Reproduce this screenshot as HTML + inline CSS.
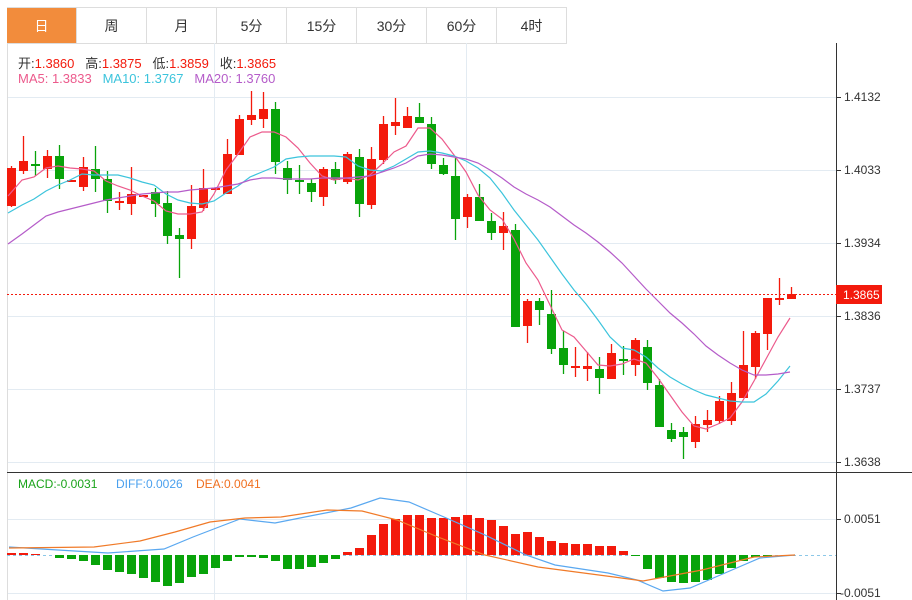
<!DOCTYPE html>
<html><head><meta charset="utf-8"><style>
body{margin:0;background:#fff;width:912px;height:600px;overflow:hidden;font-family:"Liberation Sans","Noto Sans CJK SC",sans-serif}
.tabs{position:absolute;left:7px;top:7px;height:36px;display:flex;border-top:1px solid #ddd}
.tab{width:69px;border-right:1px solid #ddd;text-align:center;line-height:36px;font-size:14px;color:#333;border-bottom:1px solid #ddd}
.tab.on{background:#f28c3c;color:#fff}
.info{position:absolute;left:18px;font-size:13px;white-space:pre}
</style></head><body>
<div class="tabs"><div class="tab on">日</div><div class="tab">周</div><div class="tab">月</div><div class="tab">5分</div><div class="tab">15分</div><div class="tab">30分</div><div class="tab">60分</div><div class="tab">4时</div></div>
<svg id="s" width="912" height="600" style="position:absolute;left:0;top:0" font-family="Liberation Sans, sans-serif">
<g stroke="#e3ebf2" stroke-width="1">
<line x1="7" y1="97.5" x2="836" y2="97.5"/><line x1="7" y1="170.5" x2="836" y2="170.5"/><line x1="7" y1="243.5" x2="836" y2="243.5"/><line x1="7" y1="316.5" x2="836" y2="316.5"/><line x1="7" y1="389.5" x2="836" y2="389.5"/><line x1="7" y1="462.5" x2="836" y2="462.5"/>
<line x1="7" y1="519.5" x2="836" y2="519.5"/><line x1="7" y1="593.5" x2="836" y2="593.5"/>
<line x1="214.5" y1="43" x2="214.5" y2="600"/><line x1="466.5" y1="43" x2="466.5" y2="600"/>
</g>
<line x1="7.5" y1="43" x2="7.5" y2="600" stroke="#ddd"/>
<line x1="7" y1="472.5" x2="912" y2="472.5" stroke="#333"/>
<line x1="836.5" y1="43" x2="836.5" y2="600" stroke="#333"/>
<g stroke="#333"><line x1="836" y1="97.5" x2="841" y2="97.5"/><line x1="836" y1="170.5" x2="841" y2="170.5"/><line x1="836" y1="243.5" x2="841" y2="243.5"/><line x1="836" y1="316.5" x2="841" y2="316.5"/><line x1="836" y1="389.5" x2="841" y2="389.5"/><line x1="836" y1="462.5" x2="841" y2="462.5"/><line x1="836" y1="519.5" x2="841" y2="519.5"/><line x1="836" y1="593.5" x2="841" y2="593.5"/></g>
<g font-size="12" fill="#333"><text x="844" y="101">1.4132</text><text x="844" y="174">1.4033</text><text x="844" y="247">1.3934</text><text x="844" y="320">1.3836</text><text x="844" y="393">1.3737</text><text x="844" y="466">1.3638</text><text x="844" y="523">0.0051</text><text x="840" y="597">-0.0051</text></g>
<line x1="7" y1="294.5" x2="836" y2="294.5" stroke="#f31a0c" stroke-dasharray="2,2"/>
<rect x="836" y="285" width="46" height="19" fill="#f31a0c"/><text x="843" y="299" font-size="12" fill="#fff">1.3865</text>
<line x1="7" y1="555.5" x2="836" y2="555.5" stroke="#8cc8e8" stroke-dasharray="3,3"/>
<g id="g"></g>
<g font-size="12"><text x="18" y="488" fill="#1aa31a">MACD:-0.0031</text><text x="116" y="488" fill="#4aa0ee">DIFF:0.0026</text><text x="196" y="488" fill="#f07020">DEA:0.0041</text></g>
</svg>
<div class="info" style="top:53px"><span style="color:#333">开:</span><span style="color:#f31a0c">1.3860</span>   <span style="color:#333">高:</span><span style="color:#f31a0c">1.3875</span>   <span style="color:#333">低:</span><span style="color:#f31a0c">1.3859</span>   <span style="color:#333">收:</span><span style="color:#f31a0c">1.3865</span></div>
<div class="info" style="top:71px"><span style="color:#ec5a8c">MA5: 1.3833</span>   <span style="color:#3cc4dc">MA10: 1.3767</span>   <span style="color:#b55cc9">MA20: 1.3760</span></div>
<script>
var C=[['r',168,206,166,207],['r',161,171,136,174],['g',164,166,151,176],['r',156,169,150,178],['g',156,179,145,189],['r',180,181,180,181],['r',167,187,157,191],['g',169,179,146,192],['g',179,201,171,213],['r',201,203,192,210],['r',194,204,167,215],['r',195,196,195,196],['g',192,204,188,217],['g',203,236,191,244],['g',235,239,228,278],['r',206,239,185,249],['r',188,208,169,211],['r',188,189,188,189],['r',154,194,139,194],['r',119,155,115,155],['r',115,120,91,125],['r',109,119,92,128],['g',109,162,102,174],['g',168,180,161,194],['g',180,182,165,194],['g',183,192,179,202],['r',169,197,167,206],['g',169,180,162,184],['r',154,182,152,184],['g',157,204,149,217],['r',159,205,147,209],['r',124,160,116,164],['r',122,126,98,135],['r',116,128,107,128],['g',117,123,103,123],['g',124,164,117,169],['g',165,174,158,175],['g',176,219,158,240],['r',197,217,194,228],['g',197,221,184,221],['g',221,233,213,240],['r',226,233,212,250],['g',230,327,224,327],['r',301,326,299,343],['g',301,310,298,325],['g',314,349,290,354],['g',348,365,331,374],['r',366,367,347,377],['r',366,369,352,381],['g',369,378,357,394],['r',353,379,344,379],['g',359,360,346,375],['r',340,365,338,376],['g',347,383,340,390],['g',385,427,379,427],['g',430,439,423,442],['g',432,437,427,459],['r',424,442,416,448],['r',420,425,410,432],['r',401,421,396,424],['r',393,421,382,425],['r',365,398,331,398],['r',333,367,331,379],['r',298,334,298,350],['r',298,299,278,305],['r',294,299,287,299]];
var H=[553,553,554,555,558,559,561,565,570,572,574,578,582,586,583,577,574,568,561,557,557,558,561,569,569,567,563,559,552,548,535,524,519,515,515,518,518,517,515,518,520,526,534,532,537,541,543,544,544,546,546,551,556,569,578,582,583,582,580,574,568,561,557,556,555,555];
var R='#f31a0c',G='#08a30a',h='';
C.forEach(function(c,i){var x=11+12*i,col=c[0]=='r'?R:G;h+='<line x1="'+(x+.5)+'" x2="'+(x+.5)+'" y1="'+c[3]+'" y2="'+c[4]+'" stroke="'+col+'" stroke-width="1.3"/>';var t=c[1],b=Math.max(c[2],c[1]+2);h+='<rect x="'+(x-4)+'" y="'+t+'" width="9" height="'+(b-t)+'" fill="'+col+'"/>';});
H.forEach(function(v,i){var x=11+12*i;if(v<555)h+='<rect x="'+(x-4)+'" y="'+v+'" width="9" height="'+(555-v)+'" fill="'+R+'"/>';else if(v>555)h+='<rect x="'+(x-4)+'" y="555" width="9" height="'+(v-555)+'" fill="'+G+'"/>';});
function pl(p,c){h+='<polyline fill="none" stroke="'+c+'" stroke-width="1.2" points="'+p+'"/>';}
pl('8,196 22,180 34,177 46,168 58,166 70,168 82,169 94,171 106,181 118,186 130,190 142,196 154,201 166,211 178,214 190,214 202,212 214,194 226,170 238,154 250,137 262,132 274,132 286,137 298,148 310,163 322,176 334,180 346,178 358,180 370,175 382,164 394,152 406,146 418,128 430,128 442,139 454,155 466,172 478,195 490,210 502,219 514,239 526,263 538,280 550,305 562,330 574,337 586,351 598,365 610,366 622,364 634,359 646,363 658,378 670,395 682,412 694,426 706,429 718,424 730,418 742,402 754,381 766,359 778,337 790,318','#ec5a8c');
pl('8,213 22,205 34,199 46,191 58,185 70,180 82,174 94,175 106,175 118,175 130,178 142,182 154,185 166,194 178,200 190,203 202,204 214,201 226,193 238,186 250,177 262,172 274,167 286,159 298,157 310,156 322,156 334,156 346,157 358,166 370,170 382,171 394,166 406,159 418,152 430,151 442,153 454,156 466,161 478,168 490,178 502,193 514,210 526,225 538,240 550,257 562,274 574,290 586,304 598,320 610,337 622,348 634,350 646,357 658,368 670,377 682,384 694,390 706,395 718,398 730,401 742,402 754,402 766,394 778,381 790,366','#3cc4dc');
pl('8,244 22,234 34,225 46,216 58,212 70,209 82,206 94,203 106,200 118,198 130,196 142,194 154,193 166,192 178,192 190,190 202,189 214,188 226,186 238,184 250,180 262,178 274,178 286,179 298,179 310,179 322,178 334,178 346,178 358,177 370,176 382,172 394,168 406,163 418,156 430,154 442,155 454,157 466,159 478,163 490,170 502,178 514,187 526,194 538,200 550,207 562,216 574,225 586,233 598,242 610,252 622,263 634,276 646,289 658,301 670,313 682,323 694,334 706,346 718,355 730,363 742,370 754,375 766,375 778,374 790,372','#b55cc9');
pl('9,547 58,550 108,553 164,549 193,537 219,527 240,519 275,523 310,516 351,508 380,498 409,502 444,517 485,535 526,555 555,565 608,573 637,580 663,591 690,588 725,573 760,558 795,555','#5aa8f0');
pl('9,548 94,547 140,541 175,532 210,522 245,518 281,517 327,510 362,511 397,520 438,537 485,555 538,567 614,577 643,581 702,570 754,557 795,555','#f07a28');
document.getElementById('g').innerHTML=h;
</script>
</body></html>
